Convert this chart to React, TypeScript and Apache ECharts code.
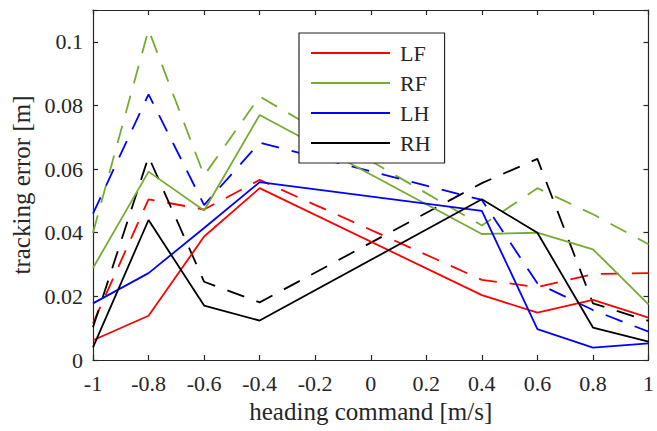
import React, { useEffect, useRef } from 'react';
import * as echarts from 'echarts';

const xs = [-1, -0.8, -0.6, -0.4, 0.4, 0.6, 0.8, 1];

const lfSolid = [0.0062, 0.0139, 0.0388, 0.054, 0.0204, 0.0149, 0.0189, 0.0133];
const rfSolid = [0.0289, 0.0592, 0.047, 0.077, 0.0396, 0.04, 0.0348, 0.0175];
const lhSolid = [0.0178, 0.0273, 0.0415, 0.0559, 0.0469, 0.0097, 0.0039, 0.0052];
const rhSolid = [0.004, 0.044, 0.0171, 0.0124, 0.0505, 0.04, 0.0102, 0.0058];

const lfDashed = [0.0115, 0.0505, 0.0473, 0.0566, 0.0252, 0.0229, 0.027, 0.0273];
const rfDashed = [0.04, 0.1038, 0.058, 0.0828, 0.0423, 0.054, 0.0458, 0.0364];
const lhDashed = [0.046, 0.0835, 0.0487, 0.0683, 0.0503, 0.0241, 0.0157, 0.0089];
const rhDashed = [0.0103, 0.0639, 0.0246, 0.0181, 0.0556, 0.0632, 0.0178, 0.0123];

const legendNames = ['LF', 'RF', 'LH', 'RH'];
const colors = ['#ff0000', '#77ac30', '#0000ff', '#000000'];

const FONT = 'Liberation Serif';
const TXT = '#262626';

export default function App() {
  const ref = useRef<HTMLDivElement>(null);
  useEffect(() => {
    const chart = echarts.init(ref.current!, null, { renderer: 'svg' });
    const solids = [lfSolid, rfSolid, lhSolid, rhSolid];
    const dashes = [lfDashed, rfDashed, lhDashed, rhDashed];
    const mk = (arr: number[]) => xs.map((x, i) => [x, arr[i]]);
    const series: any[] = [];
    solids.forEach((arr, k) => {
      series.push({
        name: legendNames[k],
        type: 'line',
        data: mk(arr),
        symbol: 'none',
        color: colors[k],
        lineStyle: { color: colors[k], width: 1.8 },
        z: 3,
      });
    });
    dashes.forEach((arr, k) => {
      series.push({
        name: legendNames[k] + ' dashed',
        type: 'line',
        data: mk(arr),
        symbol: 'none',
        color: colors[k],
        lineStyle: { color: colors[k], width: 1.8, type: [18, 13] },
        z: 2,
      });
    });
    const axisLine = { show: true, onZero: false, lineStyle: { color: TXT, width: 1.2 } };
    const axisTick = { show: true, inside: true, length: 5, lineStyle: { color: TXT, width: 1.2 } };
    const fmtX = (v: number) => String(+v.toFixed(1));
    const fmtY = (v: number) => (v > 0.105 ? '' : String(+v.toFixed(2)));
    const labelStyle = {
      fontFamily: FONT,
      fontSize: 22,
      color: TXT,
    };
    chart.setOption({
      animation: false,
      backgroundColor: '#ffffff',
      textStyle: { fontFamily: FONT },
      grid: { left: 93, right: 4, top: 10, bottom: 71, containLabel: false },
      legend: {
        data: legendNames,
        orient: 'vertical',
        left: 299,
        top: 33,
        padding: [9, 14, 9, 12],
        icon: 'rect',
        itemWidth: 79,
        itemHeight: 2,
        itemGap: 8,
        backgroundColor: '#ffffff',
        borderColor: TXT,
        borderWidth: 1.2,
        textStyle: { fontFamily: FONT, fontSize: 22, lineHeight: 22, color: TXT, padding: [0, 0, 0, 5] },
      },
      xAxis: [
        {
          type: 'value',
          position: 'bottom',
          min: -1,
          max: 1,
          interval: 0.2,
          axisLine,
          axisTick,
          splitLine: { show: false },
          axisLabel: { ...labelStyle, margin: 12, formatter: fmtX },
          name: 'heading command [m/s]',
          nameLocation: 'middle',
          nameGap: 37,
          nameTextStyle: { fontFamily: FONT, fontSize: 25, color: TXT },
        },
        {
          type: 'value',
          position: 'top',
          min: -1,
          max: 1,
          interval: 0.2,
          axisLine,
          axisTick,
          splitLine: { show: false },
          axisLabel: { show: false },
        },
      ],
      yAxis: [
        {
          type: 'value',
          position: 'left',
          min: 0,
          max: 0.11,
          interval: 0.02,
          axisLine,
          axisTick,
          splitLine: { show: false },
          axisLabel: { ...labelStyle, margin: 10, formatter: fmtY },
          name: 'tracking error [m]',
          nameLocation: 'middle',
          nameGap: 53,
          nameTextStyle: { fontFamily: FONT, fontSize: 25, color: TXT },
        },
        {
          type: 'value',
          position: 'right',
          min: 0,
          max: 0.11,
          interval: 0.02,
          axisLine,
          axisTick,
          splitLine: { show: false },
          axisLabel: { show: false },
        },
      ],
      series,
    });
    return () => chart.dispose();
  }, []);
  return <div ref={ref} style={{ position: 'fixed', left: 0, top: 0, width: 657, height: 431 }} />;
}
